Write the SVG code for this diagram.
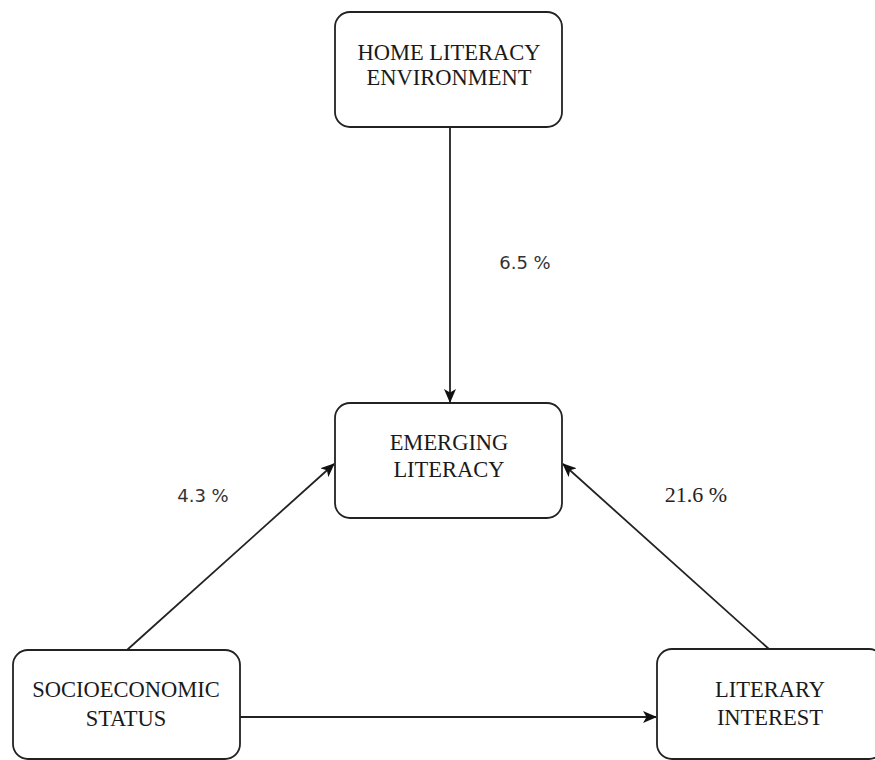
<svg xmlns="http://www.w3.org/2000/svg" width="875" height="760" viewBox="0 0 875 760">
<style>
.box{fill:#fff;stroke:#222;stroke-width:1.8}
.nt{font-family:"Liberation Serif","DejaVu Serif",serif;font-size:22.5px;fill:#1a1a1a;text-anchor:middle}
.lbl{font-family:"DejaVu Sans",sans-serif;font-size:18px;fill:#333;text-anchor:middle}
.lbls{font-family:"Liberation Serif","DejaVu Serif",serif;font-size:22px;fill:#222;text-anchor:middle}
.edge{stroke:#222;stroke-width:1.8;fill:none;marker-end:url(#ah)}
</style>
<defs>
<marker id="ah" viewBox="0 0 14 12" refX="13" refY="6" markerWidth="14" markerHeight="12" markerUnits="userSpaceOnUse" orient="auto">
<path d="M0,0 L14,6 L0,12 L3.5,6 Z" fill="#111"/>
</marker>
</defs>
<rect width="875" height="760" fill="#fff"/>
<g id="connectors">
<line class="edge" x1="450" y1="127" x2="450" y2="402"/>
<line class="edge" x1="127" y1="650" x2="334" y2="464"/>
<line class="edge" x1="770" y1="650" x2="563" y2="464"/>
<line class="edge" x1="240" y1="717" x2="656" y2="717"/>
<text class="lbl" x="525" y="269">6.5 %</text>
<text class="lbl" x="203" y="502">4.3 %</text>
<text class="lbls" x="696" y="502">21.6 %</text>
</g>
<g id="home">
<rect class="box" x="335" y="12" width="227" height="115" rx="15"/>
<text class="nt" x="449" y="60">HOME LITERACY</text>
<text class="nt" x="449" y="85">ENVIRONMENT</text>
</g>
<g id="emerging">
<rect class="box" x="335" y="403" width="227" height="115" rx="15"/>
<text class="nt" x="449" y="450">EMERGING</text>
<text class="nt" x="449" y="477">LITERACY</text>
</g>
<g id="ses">
<rect class="box" x="13" y="650" width="227" height="109" rx="15"/>
<text class="nt" x="126" y="697">SOCIOECONOMIC</text>
<text class="nt" x="126" y="726">STATUS</text>
</g>
<g id="interest">
<rect class="box" x="657" y="649" width="227" height="110" rx="15"/>
<text class="nt" x="770" y="697">LITERARY</text>
<text class="nt" x="770" y="725">INTEREST</text>
</g>
</svg>
